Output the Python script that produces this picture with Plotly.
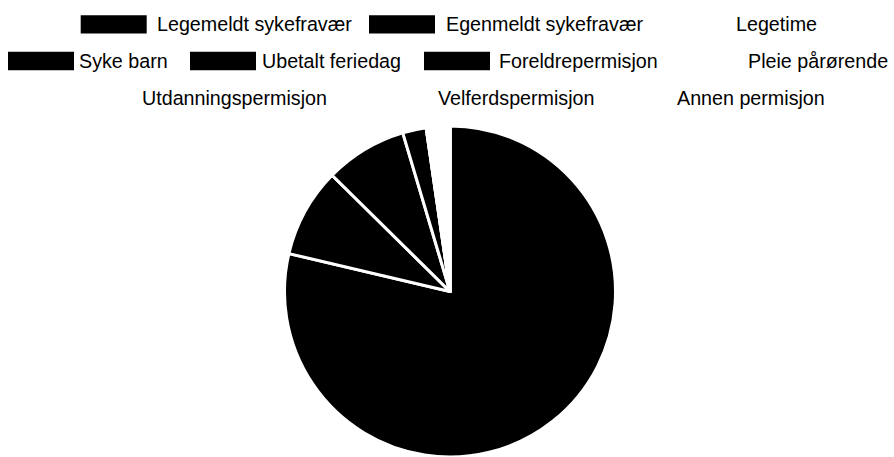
import plotly.graph_objects as go

# ---- data ----
labels = ["Legemeldt sykefravær", "Egenmeldt sykefravær", "Legetime",
          "Syke barn", "Ubetalt feriedag", "Foreldrepermisjon",
          "Pleie pårørende", "Utdanningspermisjon", "Velferdspermisjon",
          "Annen permisjon"]
values = [78.6, 8.7, 0, 8.0, 2.3, 0, 2.3, 0, 0, 0]
colors = ["#000000", "#000000", "#ffffff", "#000000", "#000000", "#000000",
          "#ffffff", "#ffffff", "#ffffff", "#ffffff"]

# ---- layout (page pixels) ----
W, H = 894, 457
leg_row_y = [24.3, 24.3, 24.3, 61, 61, 61, 61, 97.6, 97.6, 97.6]
leg_box_x = [80.7, 369.0, 661.0, 8.0, 190.0, 424.0, 673.0, 67.0, 363.0, 602.0]
leg_text_x = [158.3, 446.7, 737.3, 80.0, 263.3, 500.0, 749.3, 143.3, 439.3, 678.3]
BOX_W, BOX_H = 66, 18.3

cx, cy, r = 450, 291.5, 165.5


def px(x):
    return x / W


def py(y):
    return 1 - y / H


fig = go.Figure(go.Pie(
    labels=labels, values=values, sort=False, direction="clockwise",
    rotation=0, textinfo="none", hoverinfo="label+value",
    marker=dict(colors=colors, line=dict(color="#ffffff", width=3)),
    domain=dict(x=[px(cx - r), px(cx + r)],
                y=[max(0, py(cy + r)), py(cy - r)]),
    showlegend=False,
))

shapes = []
annotations = []
for lab, col, ry, bx, tx in zip(labels, colors, leg_row_y, leg_box_x, leg_text_x):
    shapes.append(dict(type="rect", xref="paper", yref="paper",
                       x0=px(bx), x1=px(bx + BOX_W),
                       y0=py(ry + BOX_H / 2), y1=py(ry - BOX_H / 2),
                       fillcolor=col, line=dict(width=0)))
    annotations.append(dict(text=lab, xref="paper", yref="paper",
                            x=px(tx - 3), y=py(ry),
                            xanchor="left", yanchor="middle", showarrow=False,
                            font=dict(size=19.7, color="#000000",
                                      family="Liberation Sans, Arial, sans-serif")))

fig.update_layout(
    width=W, height=H, margin=dict(l=0, r=0, t=0, b=0),
    paper_bgcolor="#ffffff", plot_bgcolor="#ffffff",
    shapes=shapes, annotations=annotations,
)

fig.write_html(
    "out.html",
    config={"displayModeBar": False},
    post_script="document.body.style.margin='0';document.body.style.overflow='hidden';",
)
